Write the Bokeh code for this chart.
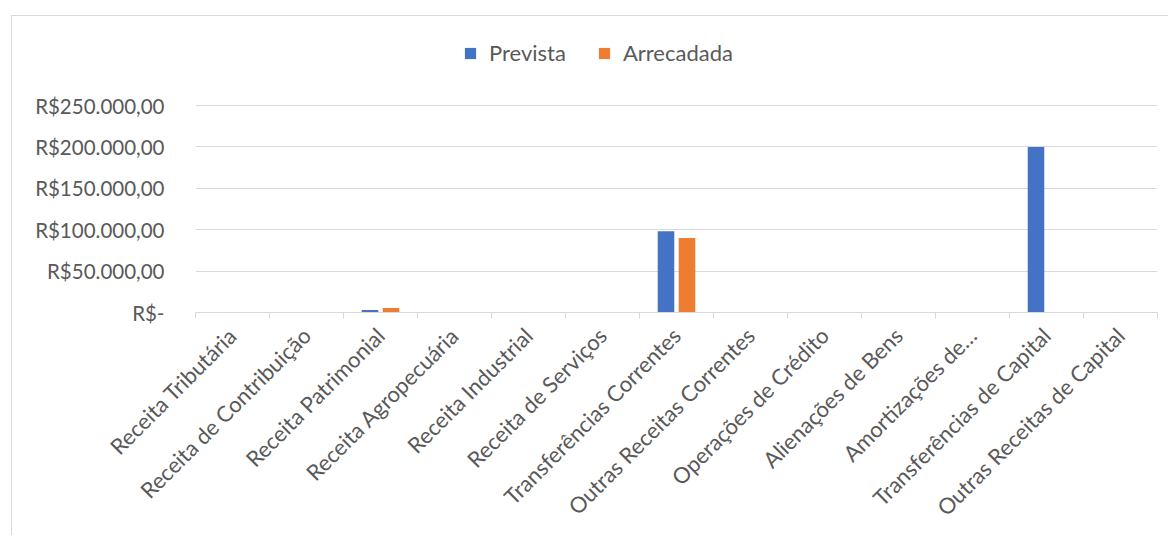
import math
import numpy as np
from bokeh.plotting import figure
from bokeh.models import (ColumnDataSource, Range1d, FixedTicker, Legend, LegendItem)
from bokeh.embed import file_html
from bokeh.resources import INLINE

categories = [
    "Receita Tributária", "Receita de Contribuição", "Receita Patrimonial",
    "Receita Agropecuária", "Receita Industrial", "Receita de Serviços",
    "Transferências Correntes", "Outras Receitas Correntes", "Operações de Crédito",
    "Alienações de Bens", "Amortizações de…", "Transferências de Capital",
    "Outras Receitas de Capital",
]
prevista = [0, 0, 3000, 0, 0, 0, 98000, 0, 0, 0, 0, 200000, 0]
arrecadada = [0, 0, 5500, 0, 0, 0, 90000, 0, 0, 0, 0, 0, 0]
y_ticks = [0, 50000, 100000, 150000, 200000, 250000]
y_tick_labels = ["R$-", "R$50.000,00", "R$100.000,00", "R$150.000,00",
                 "R$200.000,00", "R$250.000,00"]

BLUE = "#4472C4"
ORANGE = "#ED7D31"
TEXT = "#595959"
GRID = "#D9D9D9"
FONT = "Lato"

idx = np.arange(len(categories))
centers = idx + 0.5
bar_w = 0.224
off = 0.142

src = ColumnDataSource(dict(
    xp=centers - off, xa=centers + off, prevista=prevista, arrecadada=arrecadada,
))

# frame: top at 20px, bottom at 296px inside the figure; 250000 sits 207px above 0
W, H = 1157, 520
frame_top, frame_bottom = 20, 296
y_top = y_ticks[-1] * (frame_bottom - frame_top) / 207.0

p = figure(width=W, height=H, output_backend="svg", toolbar_location=None,
           x_range=Range1d(0, len(categories)), y_range=Range1d(0, y_top),
           min_border_left=183, min_border_right=W - 1145, min_border_top=frame_top,
           min_border_bottom=H - frame_bottom)
p.styles = {"margin-left": "11px", "margin-top": "15px",
            "border-left": "1px solid #D9D9D9", "border-top": "1px solid #D9D9D9"}
p.outline_line_color = None

r1 = p.vbar(x="xp", top="prevista", width=bar_w, source=src, fill_color=BLUE,
            line_color=None)
r2 = p.vbar(x="xa", top="arrecadada", width=bar_w, source=src, fill_color=ORANGE,
            line_color=None)

# y axis
p.yaxis.ticker = FixedTicker(ticks=y_ticks)
p.yaxis.major_label_overrides = {t: l for t, l in zip(y_ticks, y_tick_labels)}
p.yaxis.axis_line_color = None
p.yaxis.major_tick_line_color = None
p.yaxis.minor_tick_line_color = None
p.yaxis.major_label_standoff = 25
p.yaxis.major_label_text_font = FONT
p.yaxis.major_label_text_font_size = "20.5px"
p.yaxis.major_label_text_color = TEXT

# x axis
p.xaxis.ticker = FixedTicker(ticks=list(centers), minor_ticks=list(range(len(categories) + 1)))
p.xaxis.major_label_overrides = {float(c): n for c, n in zip(centers, categories)}
p.xaxis.major_label_orientation = math.pi / 4
p.xaxis.axis_line_color = GRID
p.xaxis.axis_line_width = 1
p.xaxis.major_tick_line_color = None
p.xaxis.minor_tick_line_color = GRID
p.xaxis.minor_tick_in = 0
p.xaxis.minor_tick_out = 6
p.xaxis.major_label_standoff = 13
p.xaxis.major_label_text_font = FONT
p.xaxis.major_label_text_font_size = "22px"
p.xaxis.major_label_text_color = TEXT

p.xgrid.grid_line_color = None
p.ygrid.ticker = FixedTicker(ticks=y_ticks)
p.ygrid.grid_line_color = GRID
p.ygrid.grid_line_width = 1

legend = Legend(items=[LegendItem(label="Prevista", renderers=[r1]),
                       LegendItem(label="Arrecadada", renderers=[r2])],
                orientation="horizontal", location=(268, 246),
                border_line_color=None, background_fill_alpha=0,
                padding=0, margin=0, spacing=31, glyph_width=14, glyph_height=14,
                label_standoff=12, label_text_font=FONT, label_text_font_size="22px",
                label_text_color=TEXT)
p.add_layout(legend, "center")

open("out.html", "w").write(file_html(p, INLINE))
